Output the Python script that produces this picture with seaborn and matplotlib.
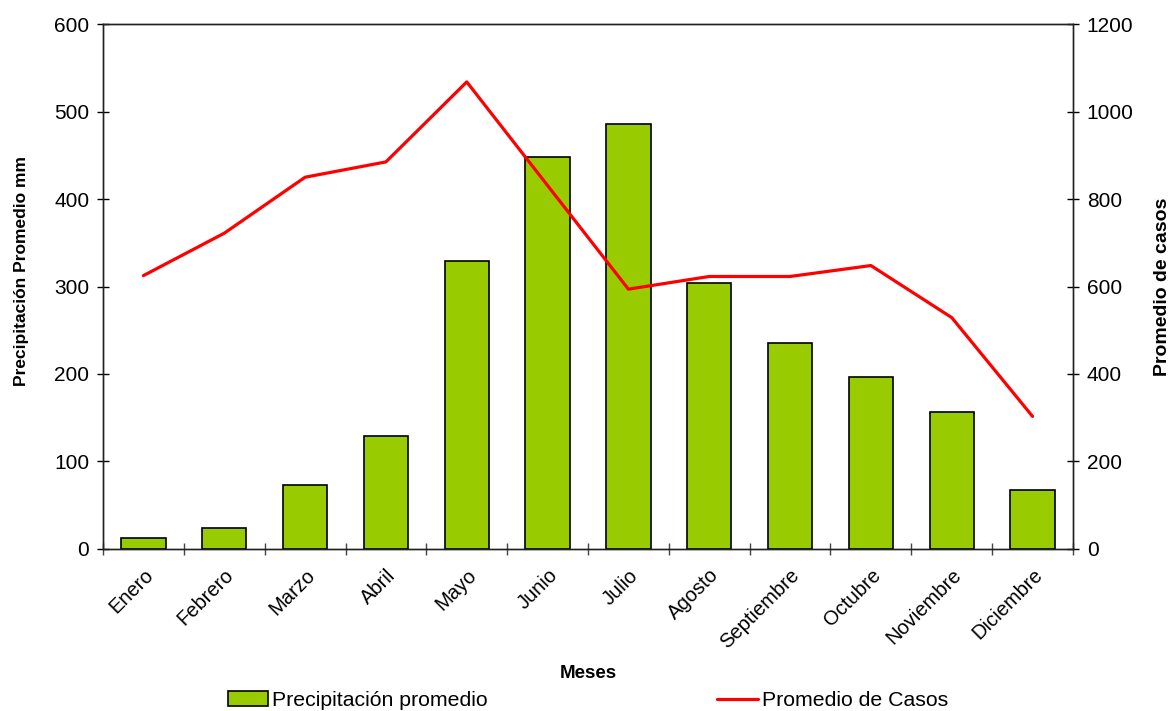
import matplotlib
matplotlib.use("Agg")
import matplotlib.pyplot as plt
import seaborn as sns
import pandas as pd
from matplotlib.patches import Patch
from matplotlib.lines import Line2D

meses = ["Enero", "Febrero", "Marzo", "Abril", "Mayo", "Junio", "Julio",
         "Agosto", "Septiembre", "Octubre", "Noviembre", "Diciembre"]
precipitacion = [12, 23.5, 73, 129, 329.5, 448.5, 486, 304.5, 236, 196, 157, 67]
casos = [625, 722, 850, 885, 1068, 831, 594, 623, 623, 648, 529, 303]

df = pd.DataFrame({"Mes": meses, "Precipitacion": precipitacion, "Casos": casos})

sns.set_theme(style="white")
plt.rcParams["font.family"] = ["Liberation Sans", "DejaVu Sans"]
plt.rcParams["text.color"] = "black"
plt.rcParams["axes.labelcolor"] = "black"
plt.rcParams["xtick.color"] = "black"
plt.rcParams["ytick.color"] = "black"

fig = plt.figure(figsize=(11.76, 7.11), dpi=100)
ax = fig.add_axes([0.0876, 0.228, 0.8248, 0.738])

sns.barplot(data=df, x="Mes", y="Precipitacion", ax=ax, color="#99CC00",
            saturation=1, width=0.55, edgecolor="black", linewidth=1.2)
ax2 = ax.twinx()
sns.lineplot(data=df, x="Mes", y="Casos", ax=ax2, sort=False, color="#FF0000",
             linewidth=2.3)

ax.set_xlim(-0.5, 11.5)
ax.set_ylim(0, 600)
ax2.set_ylim(0, 1200)
ax.set_yticks(range(0, 601, 100))
ax2.set_yticks(range(0, 1201, 200))

ax.set_xticks(range(len(meses)))
ax.set_xticklabels(meses, rotation=45, ha="right", rotation_mode="anchor",
                   fontsize=14.5)
ax.tick_params(axis="x", which="major", length=0, pad=12)
ax.set_xticks([i + 0.5 for i in range(-1, 12)], minor=True)
ax.tick_params(axis="x", which="minor", length=8, width=1, color="#444444",
               direction="inout", bottom=True)

ax.tick_params(axis="y", length=8, width=1, direction="inout", labelsize=15,
               color="black", left=True, pad=6)
ax2.tick_params(axis="y", length=8, width=1, direction="inout", labelsize=15,
                color="black", right=True, pad=6)

for a in (ax, ax2):
    for s in a.spines.values():
        s.set_color("#222222")
        s.set_linewidth(1)

ax.set_xlabel("Meses", fontsize=13.5, fontweight="bold", labelpad=9)
ax.set_ylabel("Precipitación Promedio mm", fontsize=12.5, fontweight="bold")
ax.yaxis.set_label_coords(-0.076, 0.53)
ax2.set_ylabel("Promedio de casos", fontsize=14, fontweight="bold")
ax2.yaxis.set_label_coords(1.084, 0.50)
ax2.yaxis.label.set_rotation(90)
ax.grid(False)
ax2.grid(False)

handles = [Patch(facecolor="#99CC00", edgecolor="black", linewidth=1.2),
           Line2D([0], [0], color="#FF0000", linewidth=2.3)]
fig.legend(handles, ["Precipitación promedio", "Promedio de Casos"],
           loc="lower center", bbox_to_anchor=(0.5, -0.026), ncol=2,
           frameon=False, fontsize=15.3, columnspacing=10.8, handlelength=1.9,
           handleheight=0.7, handletextpad=0.2)

fig.savefig("out.png", dpi=100)
